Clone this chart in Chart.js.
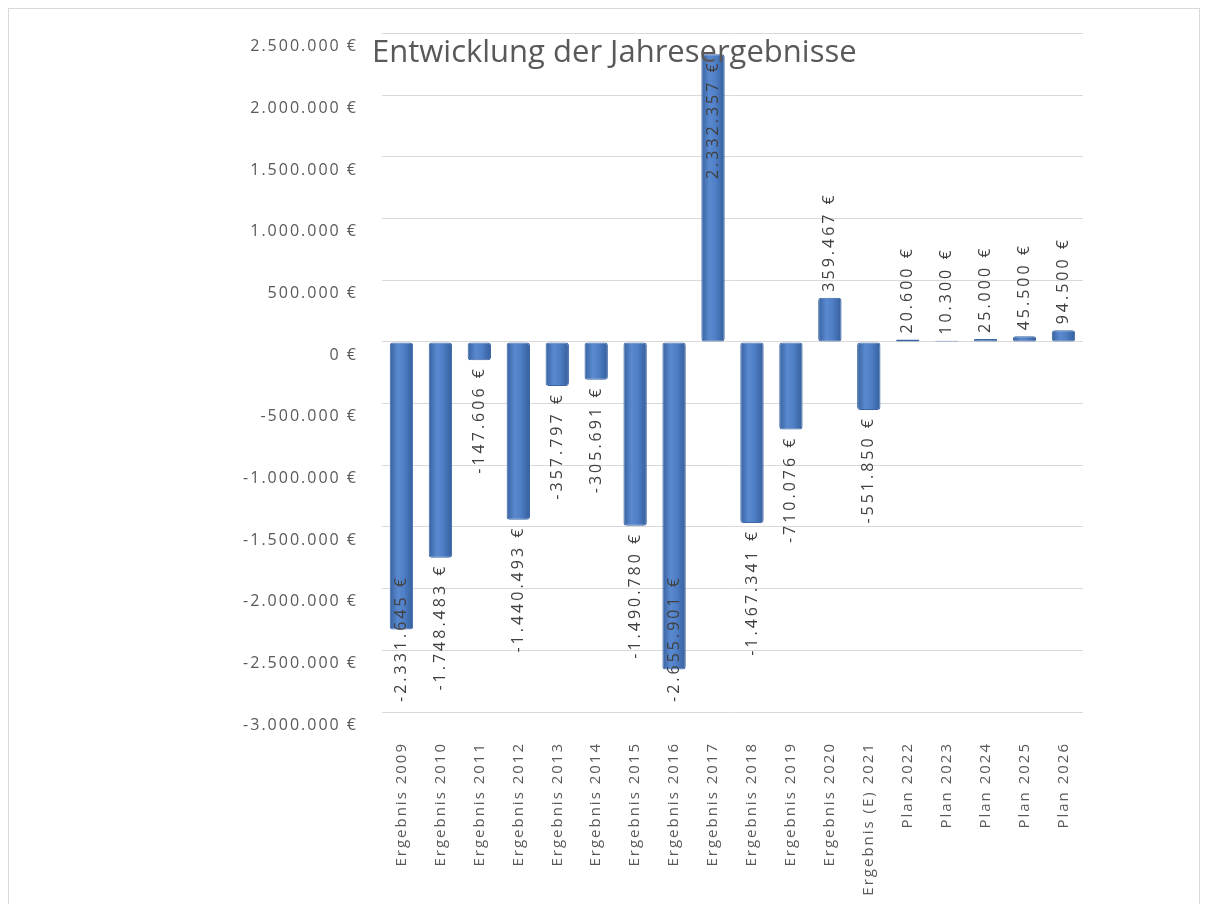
<!DOCTYPE html>
<html>
<head>
<meta charset="utf-8">
<script src="https://cdn.jsdelivr.net/npm/chart.js@4.4.1/dist/chart.umd.min.js"></script>
<style>
  html, body { margin: 0; padding: 0; background: #ffffff; }
  #wrap { position: absolute; left: 0; top: 0; width: 1211px; height: 904px; }
  #frame { position: absolute; left: 8px; top: 8px; width: 1192px; height: 900px; border: 1px solid #d9d9d9; box-sizing: border-box; pointer-events: none; }
</style>
</head>
<body>
<div id="wrap">
  <canvas id="c" width="1211" height="904"></canvas>
  <div id="frame"></div>
</div>
<script>
const chartTitle = 'Entwicklung der Jahresergebnisse';
const categories = [
  'Ergebnis 2009', 'Ergebnis 2010', 'Ergebnis 2011', 'Ergebnis 2012', 'Ergebnis 2013',
  'Ergebnis 2014', 'Ergebnis 2015', 'Ergebnis 2016', 'Ergebnis 2017', 'Ergebnis 2018',
  'Ergebnis 2019', 'Ergebnis 2020', 'Ergebnis (E) 2021',
  'Plan 2022', 'Plan 2023', 'Plan 2024', 'Plan 2025', 'Plan 2026'
];
const values = [
  -2331645, -1748483, -147606, -1440493, -357797,
  -305691, -1490780, -2655901, 2332357, -1467341,
  -710076, 359467, -551850,
  20600, 10300, 25000, 45500, 94500
];
const yMin = -3000000;
const yMax = 2500000;
const yStep = 500000;

function euro(v) {
  const s = Math.abs(Math.round(v)).toString().replace(/\B(?=(\d{3})+(?!\d))/g, '.');
  return (v < 0 ? '-' : '') + s + ' €';
}

const FONT = "'Open Sans', 'DejaVu Sans', sans-serif";

const spacingPlugin = {
  id: 'spacing',
  beforeDraw(chart) { chart.ctx.letterSpacing = '2px'; }
};

const titlePlugin = {
  id: 'innerTitle',
  afterDraw(chart) {
    const ctx = chart.ctx;
    ctx.save();
    ctx.letterSpacing = '0px';
    ctx.font = "31px " + FONT;
    ctx.fillStyle = '#595959';
    ctx.textAlign = 'left';
    ctx.textBaseline = 'middle';
    ctx.fillText(chartTitle, chart.chartArea.left - 10, chart.chartArea.top + 20);
    ctx.restore();
  }
};

const labelPlugin = {
  id: 'barLabels',
  afterDatasetsDraw(chart) {
    const ctx = chart.ctx;
    const area = chart.chartArea;
    const meta = chart.getDatasetMeta(0);
    ctx.save();
    ctx.letterSpacing = '3px';
    ctx.font = "16px " + FONT;
    ctx.fillStyle = '#404040';
    ctx.textBaseline = 'middle';
    meta.data.forEach((el, i) => {
      const v = values[i];
      const txt = euro(v);
      const w = ctx.measureText(txt).width;
      let anchor;
      if (v >= 0) {
        anchor = el.y - 6;
        if (anchor - w < area.top) { anchor = el.y + 6 + w; }
      } else {
        anchor = el.y + 6 + w;
        if (anchor > area.bottom - 10) { anchor = area.bottom - 10; }
      }
      ctx.save();
      ctx.translate(el.x, anchor);
      ctx.rotate(-Math.PI / 2);
      ctx.textAlign = 'left';
      ctx.fillText(txt, 0, 0);
      ctx.restore();
    });
    ctx.restore();
  }
};

function barFill(context) {
  const chart = context.chart;
  if (!chart.chartArea || !chart.scales.x) return '#4a78be';
  const x = chart.scales.x.getPixelForValue(context.dataIndex);
  const half = 12;
  const g = chart.ctx.createLinearGradient(x - half, 0, x + half, 0);
  g.addColorStop(0, '#36609e');
  g.addColorStop(0.35, '#5a89cf');
  g.addColorStop(0.6, '#4f7fc6');
  g.addColorStop(1, '#345d9a');
  return g;
}

new Chart(document.getElementById('c'), {
  type: 'bar',
  data: {
    labels: categories,
    datasets: [{
      data: values,
      backgroundColor: barFill,
      borderColor: '#3a64a3',
      borderWidth: 1,
      borderRadius: 3,
      borderSkipped: false,
      barPercentage: 0.6,
      categoryPercentage: 1.0
    }]
  },
  options: {
    responsive: false,
    animation: false,
    layout: { padding: { left: 0, right: 128, top: 27, bottom: 0 } },
    plugins: { legend: { display: false }, tooltip: { enabled: false }, title: { display: false } },
    scales: {
      x: {
        grid: { display: false, drawTicks: false },
        border: { display: false },
        ticks: {
          minRotation: 90, maxRotation: 90, autoSkip: false,
          padding: 30,
          color: '#595959',
          font: { family: FONT, size: 15 }
        },
        afterFit(scale) { scale.height = 192; }
      },
      y: {
        min: yMin, max: yMax,
        grid: { color: '#d9d9d9', lineWidth: 1, drawTicks: false },
        border: { display: false },
        ticks: {
          stepSize: yStep,
          padding: 24,
          labelOffset: 13,
          color: '#595959',
          font: { family: FONT, size: 16 },
          callback: (v) => euro(v)
        },
        afterFit(scale) { scale.width = 382; }
      }
    }
  },
  plugins: [spacingPlugin, labelPlugin, titlePlugin]
});
</script>
</body>
</html>
